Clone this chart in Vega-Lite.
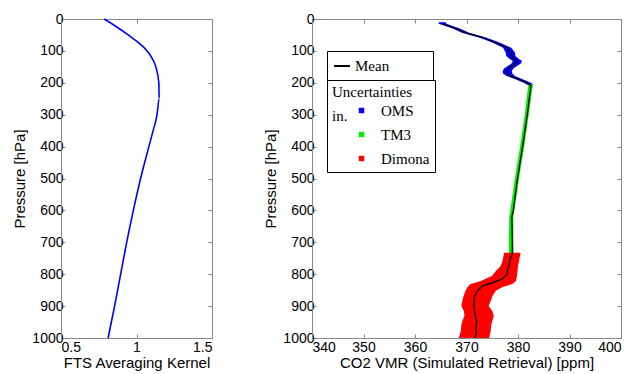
{
  "$schema": "https://vega.github.io/schema/vega-lite/v6.json",
  "padding": {"left": 12, "top": 11, "right": 4, "bottom": 0},
  "background": "white",
  "spacing": 50,
  "config": {
    "font": "Liberation Sans",
    "view": {"stroke": "#888888", "strokeWidth": 1},
    "axis": {
      "domainColor": "#888888",
      "tickColor": "#888888",
      "tickSize": -4,
      "labelColor": "black",
      "labelFontSize": 14,
      "labelFont": "Liberation Sans",
      "titleFont": "Liberation Sans",
      "titleFontSize": 15,
      "titleFontWeight": "normal",
      "titleColor": "black",
      "grid": false,
      "labelPadding": 2,
      "labelOverlap": false
    },
    "axisBottom": {"labelPadding": 6},
    "legend": {
      "strokeColor": "black",
      "fillColor": "white",
      "padding": 6,
      "labelFont": "Liberation Serif",
      "labelFontSize": 15,
      "labelColor": "black",
      "titleFont": "Liberation Serif",
      "titleFontSize": 15,
      "titleFontWeight": "normal",
      "titleColor": "black",
      "cornerRadius": 0
    }
  },
  "hconcat": [
    {
      "width": 151,
      "height": 319,
      "data": {"values": [
        {"p": 0, "ak": 0.786},
        {"p": 25, "ak": 0.87},
        {"p": 50, "ak": 0.945},
        {"p": 75, "ak": 1.015},
        {"p": 100, "ak": 1.07},
        {"p": 125, "ak": 1.105},
        {"p": 150, "ak": 1.128},
        {"p": 200, "ak": 1.148},
        {"p": 250, "ak": 1.15},
        {"p": 300, "ak": 1.136},
        {"p": 350, "ak": 1.11},
        {"p": 400, "ak": 1.082},
        {"p": 500, "ak": 1.027},
        {"p": 600, "ak": 0.979},
        {"p": 700, "ak": 0.935},
        {"p": 800, "ak": 0.895},
        {"p": 900, "ak": 0.855},
        {"p": 1000, "ak": 0.812}
      ]},
      "layer": [
        {
          "mark": {"type": "line", "color": "#0000ff", "strokeWidth": 1.6, "interpolate": "monotone"},
          "encoding": {
            "x": {"field": "ak", "type": "quantitative", "scale": {"domain": [0.5, 1.5], "nice": false},
                  "axis": {"values": [0.5, 1, 1.5], "format": "~g", "title": "FTS Averaging Kernel", "titlePadding": 1}},
            "y": {"field": "p", "type": "quantitative", "scale": {"domain": [0, 1000], "reverse": true, "nice": false},
                  "axis": {"values": [0, 100, 200, 300, 400, 500, 600, 700, 800, 900, 1000], "format": "d", "title": "Pressure [hPa]", "titlePadding": 4}},
            "order": {"field": "p", "type": "quantitative"}
          }
        },
        {
          "mark": {"type": "line", "opacity": 0},
          "encoding": {
            "x": {"field": "ak", "type": "quantitative", "axis": {"orient": "top", "values": [0.5, 1, 1.5], "labels": false, "title": null}},
            "y": {"field": "p", "type": "quantitative", "axis": {"orient": "right", "values": [0, 100, 200, 300, 400, 500, 600, 700, 800, 900, 1000], "labels": false, "title": null}}
          }
        }
      ],
      "resolve": {"axis": {"x": "independent", "y": "independent"}}
    },
    {
      "width": 309,
      "height": 319,
      "layer": [
        {
          "data": {"values": [
            {"src": "OMS", "p": 10, "lo": 364.6, "hi": 366.0},
            {"src": "OMS", "p": 15, "lo": 364.6, "hi": 366.1},
            {"src": "OMS", "p": 22, "lo": 365.9, "hi": 367.3},
            {"src": "OMS", "p": 30, "lo": 367.3, "hi": 368.7},
            {"src": "OMS", "p": 43, "lo": 369.1, "hi": 370.5},
            {"src": "OMS", "p": 58, "lo": 372.4, "hi": 373.8},
            {"src": "OMS", "p": 74, "lo": 375.0, "hi": 376.4},
            {"src": "OMS", "p": 90, "lo": 377.1, "hi": 378.7},
            {"src": "OMS", "p": 105, "lo": 377.6, "hi": 379.4},
            {"src": "OMS", "p": 116, "lo": 377.7, "hi": 379.5},
            {"src": "OMS", "p": 125, "lo": 378.4, "hi": 380.2},
            {"src": "OMS", "p": 132, "lo": 379.0, "hi": 380.8},
            {"src": "OMS", "p": 140, "lo": 378.7, "hi": 380.5},
            {"src": "OMS", "p": 147, "lo": 378.0, "hi": 379.8},
            {"src": "OMS", "p": 155, "lo": 377.3, "hi": 379.1},
            {"src": "OMS", "p": 163, "lo": 377.0, "hi": 378.8},
            {"src": "OMS", "p": 171, "lo": 377.1, "hi": 378.9},
            {"src": "OMS", "p": 179, "lo": 377.8, "hi": 379.4},
            {"src": "OMS", "p": 189, "lo": 379.5, "hi": 380.9},
            {"src": "OMS", "p": 200, "lo": 381.1, "hi": 382.5},
            {"src": "OMS", "p": 207, "lo": 381.9, "hi": 383.0},
            {"src": "TM3", "p": 205, "lo": 382.0, "hi": 382.9},
            {"src": "TM3", "p": 300, "lo": 381.3, "hi": 382.1},
            {"src": "TM3", "p": 400, "lo": 380.4, "hi": 381.2},
            {"src": "TM3", "p": 500, "lo": 379.4, "hi": 380.2},
            {"src": "TM3", "p": 600, "lo": 378.5, "hi": 379.3},
            {"src": "TM3", "p": 620, "lo": 378.3, "hi": 379.1},
            {"src": "TM3", "p": 700, "lo": 378.2, "hi": 379.1},
            {"src": "TM3", "p": 745, "lo": 378.3, "hi": 379.2},
            {"src": "Dimona", "p": 733, "lo": 377.3, "hi": 380.5},
            {"src": "Dimona", "p": 759, "lo": 377.0, "hi": 380.2},
            {"src": "Dimona", "p": 775, "lo": 376.6, "hi": 380.0},
            {"src": "Dimona", "p": 790, "lo": 375.7, "hi": 379.9},
            {"src": "Dimona", "p": 805, "lo": 375.0, "hi": 379.8},
            {"src": "Dimona", "p": 821, "lo": 372.8, "hi": 379.6},
            {"src": "Dimona", "p": 831, "lo": 370.8, "hi": 378.9},
            {"src": "Dimona", "p": 840, "lo": 370.2, "hi": 377.0},
            {"src": "Dimona", "p": 852, "lo": 369.8, "hi": 375.7},
            {"src": "Dimona", "p": 870, "lo": 369.4, "hi": 375.0},
            {"src": "Dimona", "p": 884, "lo": 369.2, "hi": 374.7},
            {"src": "Dimona", "p": 900, "lo": 369.0, "hi": 374.3},
            {"src": "Dimona", "p": 915, "lo": 369.5, "hi": 375.0},
            {"src": "Dimona", "p": 930, "lo": 369.6, "hi": 375.3},
            {"src": "Dimona", "p": 947, "lo": 369.2, "hi": 375.0},
            {"src": "Dimona", "p": 960, "lo": 369.0, "hi": 374.8},
            {"src": "Dimona", "p": 978, "lo": 368.9, "hi": 374.7},
            {"src": "Dimona", "p": 1000, "lo": 368.5, "hi": 374.4}
          ]},
          "mark": {"type": "area", "orient": "horizontal"},
          "encoding": {
            "y": {"field": "p", "type": "quantitative", "scale": {"domain": [0, 1000], "reverse": true, "nice": false},
                  "axis": {"values": [0, 100, 200, 300, 400, 500, 600, 700, 800, 900, 1000], "format": "d", "title": "Pressure [hPa]", "titlePadding": 4}},
            "x": {"field": "lo", "type": "quantitative", "stack": null, "scale": {"domain": [340, 400], "nice": false},
                  "axis": {"values": [340, 350, 360, 370, 380, 390, 400], "title": "CO2 VMR (Simulated Retrieval) [ppm]", "titlePadding": 1}},
            "x2": {"field": "hi"},
            "fill": {"field": "src", "type": "nominal",
                     "scale": {"domain": ["OMS", "TM3", "Dimona"], "range": ["#0000ff", "#00ee00", "#ff0000"]},
                     "legend": {"title": ["Uncertainties", "in."], "orient": "none", "legendX": 15, "legendY": 61,
                                "padding": 5, "titleLineHeight": 24,
                                "symbolType": "square", "symbolSize": 30, "titlePadding": -21, "symbolOffset": 22,
                                "labelOffset": 12, "rowPadding": 8}}
          }
        },
        {
          "data": {"values": [
            {"p": 15, "v": 365.3},
            {"p": 22, "v": 366.6},
            {"p": 30, "v": 368.0},
            {"p": 43, "v": 369.8},
            {"p": 58, "v": 373.1},
            {"p": 74, "v": 375.7},
            {"p": 90, "v": 377.9},
            {"p": 105, "v": 378.5},
            {"p": 116, "v": 378.6},
            {"p": 125, "v": 379.3},
            {"p": 132, "v": 379.9},
            {"p": 140, "v": 379.6},
            {"p": 147, "v": 378.9},
            {"p": 155, "v": 378.2},
            {"p": 163, "v": 377.9},
            {"p": 171, "v": 378.0},
            {"p": 179, "v": 378.6},
            {"p": 189, "v": 380.2},
            {"p": 200, "v": 381.8},
            {"p": 210, "v": 382.5},
            {"p": 300, "v": 381.8},
            {"p": 400, "v": 380.9},
            {"p": 500, "v": 379.9},
            {"p": 600, "v": 379.1},
            {"p": 620, "v": 378.8},
            {"p": 700, "v": 378.9},
            {"p": 737, "v": 378.9},
            {"p": 750, "v": 378.5},
            {"p": 769, "v": 378.3},
            {"p": 785, "v": 378.0},
            {"p": 800, "v": 377.9},
            {"p": 808, "v": 377.4},
            {"p": 815, "v": 376.9},
            {"p": 821, "v": 376.0},
            {"p": 827, "v": 375.0},
            {"p": 832, "v": 374.0},
            {"p": 837, "v": 373.1},
            {"p": 845, "v": 372.6},
            {"p": 852, "v": 372.1},
            {"p": 862, "v": 371.8},
            {"p": 873, "v": 371.5},
            {"p": 890, "v": 371.4},
            {"p": 905, "v": 371.5},
            {"p": 920, "v": 371.6},
            {"p": 936, "v": 371.8},
            {"p": 950, "v": 372.0},
            {"p": 967, "v": 371.8},
            {"p": 985, "v": 371.9},
            {"p": 1000, "v": 371.6}
          ]},
          "mark": {"type": "line", "strokeWidth": 1.3},
          "encoding": {
            "x": {"field": "v", "type": "quantitative", "axis": null},
            "y": {"field": "p", "type": "quantitative", "axis": null},
            "order": {"field": "p", "type": "quantitative"},
            "stroke": {"datum": "Mean", "type": "nominal",
                       "scale": {"domain": ["Mean"], "range": ["black"]},
                       "legend": {"title": null, "orient": "none", "legendX": 15, "legendY": 32,
                                  "padding": 6,
                                  "symbolType": "stroke", "symbolStrokeWidth": 2, "symbolSize": 250,
                                  "labelExpr": "datum.label + '\u2007\u2007\u2007\u2007\u2007\u200b'"}}
          }
        },
        {
          "data": {"values": [{"p": 0, "v": 340}, {"p": 1000, "v": 400}]},
          "mark": {"type": "point", "opacity": 0},
          "encoding": {
            "x": {"field": "v", "type": "quantitative", "axis": {"orient": "top", "values": [340, 350, 360, 370, 380, 390, 400], "labels": false, "title": null}},
            "y": {"field": "p", "type": "quantitative", "axis": {"orient": "right", "values": [0, 100, 200, 300, 400, 500, 600, 700, 800, 900, 1000], "labels": false, "title": null}}
          }
        }
      ],
      "resolve": {"axis": {"x": "independent", "y": "independent"}, "legend": {"fill": "independent", "stroke": "independent"}}
    }
  ]
}
